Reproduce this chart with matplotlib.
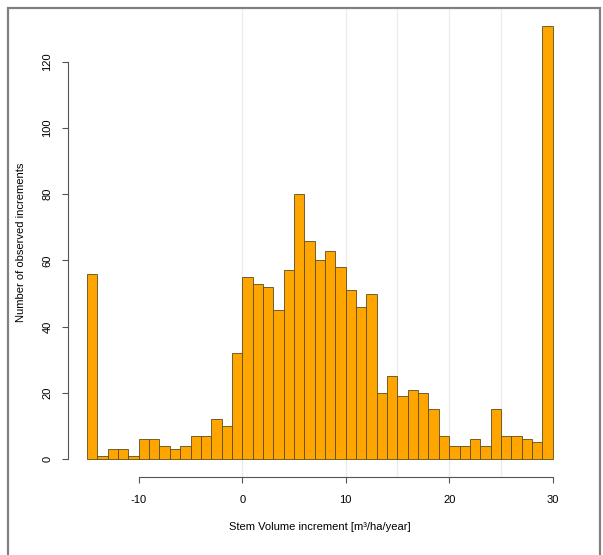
import numpy as np
import matplotlib
matplotlib.use('Agg')
import matplotlib.pyplot as plt
from matplotlib.patches import Rectangle

# histogram of stem volume increments, bins of width 1 from -15 to 30
bin_left = np.arange(-15, 30)
counts = [56, 1, 3, 3, 1, 6, 6, 4, 3, 4, 7, 7, 12, 10, 32,
          55, 53, 52, 45, 57, 80, 66, 60, 63, 58, 51, 46, 50, 20, 25,
          19, 21, 20, 15, 7, 4, 4, 6, 4, 15, 7, 7, 6, 5, 131]
grid_x = [0, 10, 15, 20, 25]
x_ticks = [-10, 0, 10, 20, 30]
y_ticks = [0, 20, 40, 60, 80, 100, 120]

plt.rcParams['font.family'] = ['Liberation Sans', 'DejaVu Sans']
plt.rcParams['axes.unicode_minus'] = False

fig = plt.figure(figsize=(6.03, 5.55), dpi=100)
ax = fig.add_axes([68/603, 78/555, 495/603, 469/555])
ax.set_xlim(-16.84, 31.0)
ax.set_ylim(-5.44, 136.3)

for g in grid_x:
    ax.axvline(g, color='#ededed', lw=1.0, zorder=0)

ax.bar(bin_left, counts, width=1, align='edge', color='#ffa500',
       edgecolor='#5c4a1e', linewidth=0.6, zorder=2)

for s in ['top', 'right']:
    ax.spines[s].set_visible(False)
ax.spines['left'].set_bounds(0, 120)
ax.spines['bottom'].set_bounds(-10, 30)
for s in ['left', 'bottom']:
    ax.spines[s].set_color('#555555')
    ax.spines[s].set_linewidth(0.8)

ax.set_xticks(x_ticks)
ax.set_yticks(y_ticks)
ax.tick_params(axis='both', length=4.3, width=0.8, color='#555555', labelsize=8)
ax.tick_params(axis='x', pad=9)
ax.tick_params(axis='y', pad=7)
for lab in ax.get_yticklabels():
    lab.set_rotation(90)
    lab.set_va('center')

fig.text(320/603, 1 - 527/555, 'Stem Volume increment [m³/ha/year]',
         ha='center', va='center', fontsize=8)
fig.text(21/603, 1 - 242/555, 'Number of observed increments',
         ha='center', va='center', rotation=90, fontsize=8)

# grey frame around the whole picture
fig.patches.append(Rectangle((8/603, -0.05), 592/603, 1.05 - 8/555,
                             transform=fig.transFigure, fill=False,
                             edgecolor='#808080', linewidth=1.6))

fig.savefig('out.png', dpi=100)
